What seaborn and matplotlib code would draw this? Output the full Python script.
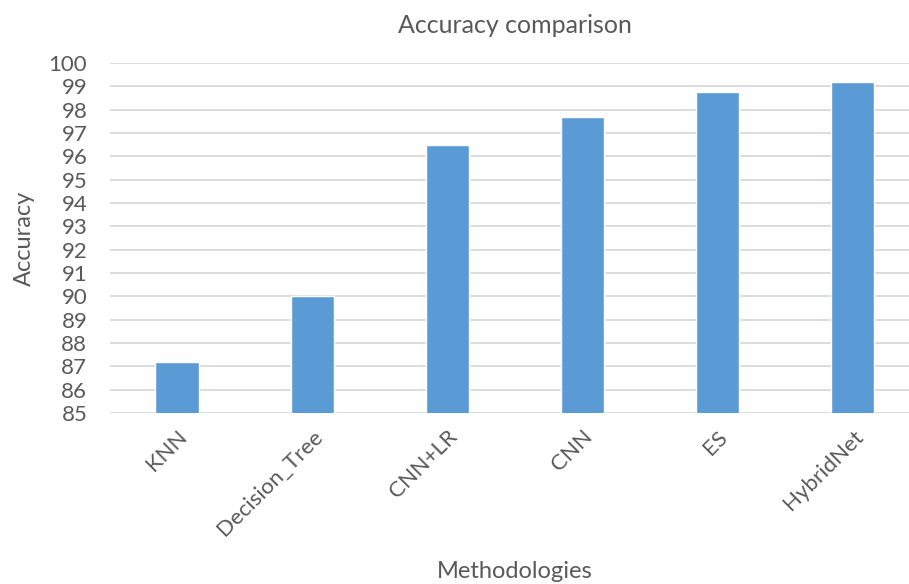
import matplotlib
matplotlib.use("Agg")
import matplotlib.pyplot as plt
import seaborn as sns
import pandas as pd

methods = ["KNN", "Decision_Tree", "CNN+LR", "CNN", "ES", "HybridNet"]
accuracy = [87.2, 90.0, 96.5, 97.7, 98.75, 99.2]
y_ticks = list(range(85, 101))

sns.set_theme(style="white")
plt.rcParams["font.family"] = ["Lato", "DejaVu Sans"]

df = pd.DataFrame({"Methodologies": methods, "Accuracy": accuracy})

fig = plt.figure(figsize=(9.09, 5.84), dpi=100)
ax = fig.add_axes([0.1205, 0.293, 0.892, 0.599])

sns.barplot(data=df, x="Methodologies", y="Accuracy", color="#5b9bd5",
            width=0.32, saturation=1, ax=ax, zorder=3)

ax.set_ylim(85, 100)
ax.set_yticks(y_ticks)
ax.set_yticklabels([str(t) for t in y_ticks])
ax.set_xlim(-0.5, len(methods) - 0.5)
ax.grid(axis="y", color="#d9d9d9", linewidth=1.3, zorder=0)
ax.grid(axis="x", visible=False)
for s in ax.spines.values():
    s.set_visible(False)
ax.tick_params(axis="both", length=0, colors="#595959", labelsize=16)
ax.tick_params(axis="y", pad=16)
ax.tick_params(axis="x", pad=10)
for lbl in ax.get_xticklabels():
    lbl.set_rotation(45)
    lbl.set_ha("right")
    lbl.set_rotation_mode("anchor")

ax.set_xlabel("Methodologies", fontsize=17, color="#595959", labelpad=15)
ax.set_ylabel("Accuracy", fontsize=17, color="#595959", labelpad=10)
ax.set_title("Accuracy comparison", fontsize=18, color="#595959", pad=22)

fig.savefig("out.png", dpi=100)
